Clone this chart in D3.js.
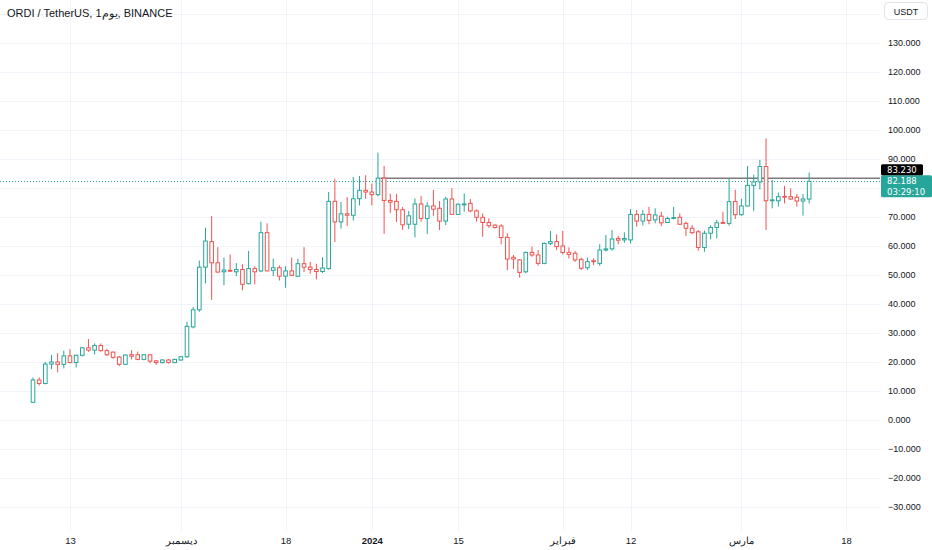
<!DOCTYPE html>
<html>
<head>
<meta charset="utf-8">
<script src="https://cdn.jsdelivr.net/npm/d3@7"></script>
<style>
body { margin: 0; background: #fff; }
svg { display: block; font-family: "Liberation Sans", Arial, sans-serif; }
</style>
</head>
<body>
<div id="chart"></div>
<script>
// daily candles ORDI/USDT, first day 7 Nov 2023
var firstDay = Date.UTC(2023, 10, 7);

var opens = [6.0, 13.7, 12.5, 19.2, 19.9, 19.1, 22.0, 19.7, 22.2, 24.8,
  24.0, 25.6, 23.8, 23.3, 21.6, 19.1, 22.4, 22.4, 20.8, 22.4,
  20.3, 19.7, 20.6, 19.7, 20.6, 21.7, 32.0, 37.9, 52.6, 61.4,
  54.1, 51.0, 51.5, 51.0, 51.8, 46.9, 52.1, 51.3, 64.5, 51.5,
  52.4, 49.5, 51.3, 49.5, 53.8, 52.6, 51.8, 51.1, 52.1, 75.3,
  68.2, 71.0, 70.5, 76.2, 79.1, 78.5, 77.6, 83.3, 75.6, 75.3,
  72.4, 67.4, 67.4, 74.4, 69.4, 73.7, 72.9, 68.5, 76.1, 70.8,
  74.1, 74.6, 72.0, 69.8, 68.0, 67.1, 66.8, 62.9, 56.0, 55.1,
  51.0, 57.7, 56.8, 53.9, 60.8, 61.4, 59.9, 57.7, 57.4, 55.3,
  52.4, 54.8, 53.9, 58.5, 58.9, 62.5, 62.0, 62.0, 70.8, 68.5,
  70.8, 68.9, 70.2, 68.0, 69.4, 69.8, 67.7, 66.0, 64.8, 59.4,
  64.3, 66.3, 68.0, 67.7, 75.2, 70.7, 73.7, 80.8, 82.0, 87.3,
  75.5, 75.5, 77.0, 76.9, 76.7, 75.4, 76.1];
var highs = [14.6, 14.6, 19.9, 22.3, 22.9, 23.8, 24.3, 22.5, 25.0, 27.8,
  26.3, 26.3, 24.4, 23.5, 22.0, 22.5, 24.0, 23.5, 22.6, 22.6,
  20.5, 20.8, 20.9, 21.0, 21.9, 33.8, 38.9, 54.9, 66.2, 70.2,
  59.5, 55.9, 57.0, 54.0, 53.6, 58.2, 52.9, 68.3, 67.7, 55.5,
  53.2, 52.9, 55.9, 55.5, 59.5, 54.4, 53.8, 56.0, 78.5, 83.1,
  75.1, 76.8, 83.7, 84.0, 84.3, 81.4, 92.1, 87.5, 77.9, 77.9,
  73.3, 72.0, 76.3, 77.1, 75.0, 79.2, 75.4, 76.9, 79.8, 74.6,
  78.0, 76.1, 72.5, 71.1, 69.4, 67.4, 67.4, 64.3, 56.8, 55.4,
  57.9, 59.7, 58.5, 61.1, 65.1, 63.9, 65.1, 59.4, 58.2, 55.9,
  55.9, 55.6, 60.5, 63.7, 65.4, 63.4, 64.6, 72.6, 72.3, 72.3,
  73.4, 72.9, 71.7, 70.0, 73.4, 71.1, 68.3, 67.1, 65.4, 65.2,
  67.1, 68.9, 71.7, 83.2, 79.3, 76.2, 87.5, 84.5, 89.6, 97.0,
  82.7, 78.3, 80.6, 79.8, 77.8, 77.8, 85.2];
var lows = [5.8, 11.8, 12.2, 17.4, 16.3, 17.7, 19.5, 18.0, 21.8, 23.4,
  22.5, 23.5, 22.0, 21.0, 18.5, 19.0, 20.8, 20.5, 20.5, 19.5,
  18.9, 19.4, 19.4, 19.5, 20.3, 21.3, 31.5, 37.2, 47.0, 41.3,
  50.7, 46.4, 51.0, 49.5, 44.6, 46.7, 46.7, 50.9, 51.3, 49.5,
  48.0, 45.5, 49.5, 49.2, 50.9, 50.3, 48.4, 50.6, 51.8, 61.3,
  65.9, 66.8, 68.7, 73.9, 76.2, 73.9, 77.0, 64.1, 71.3, 68.2,
  65.5, 65.7, 62.9, 68.3, 64.0, 70.3, 65.4, 67.1, 70.8, 70.6,
  71.7, 71.5, 68.3, 63.1, 66.2, 65.9, 60.5, 51.6, 52.0, 49.0,
  50.5, 56.2, 53.1, 53.6, 60.2, 58.5, 57.0, 55.6, 54.4, 51.6,
  51.6, 53.3, 53.1, 58.0, 58.3, 60.5, 61.0, 60.8, 66.6, 67.0,
  67.4, 67.7, 66.8, 67.9, 69.1, 67.1, 63.3, 64.0, 58.3, 57.9,
  62.2, 62.5, 67.5, 66.9, 69.2, 70.3, 73.6, 71.9, 79.4, 65.4,
  72.9, 73.5, 74.6, 75.8, 73.5, 70.4, 74.6];
var closes = [13.7, 12.5, 19.2, 19.9, 19.1, 22.0, 19.7, 22.2, 24.8, 24.0,
  25.6, 23.8, 22.4, 21.5, 19.1, 22.3, 21.9, 20.8, 22.4, 20.2,
  19.7, 20.6, 19.7, 20.8, 21.7, 32.2, 37.9, 52.6, 61.6, 54.1,
  50.9, 51.6, 51.2, 51.8, 46.7, 52.1, 51.0, 64.5, 51.3, 52.4,
  49.5, 51.3, 49.8, 53.8, 52.6, 51.8, 51.1, 52.3, 75.3, 68.2,
  71.0, 70.5, 76.2, 79.1, 78.5, 77.6, 83.3, 75.6, 75.0, 72.4,
  67.2, 70.3, 74.4, 69.4, 73.7, 72.6, 68.5, 76.1, 70.8, 74.3,
  74.4, 72.0, 69.8, 68.0, 66.9, 66.3, 62.8, 55.4, 55.4, 50.8,
  57.7, 56.8, 53.9, 60.8, 61.4, 59.7, 57.7, 57.0, 55.1, 52.2,
  54.5, 54.5, 58.5, 58.9, 62.3, 61.9, 62.5, 70.8, 68.5, 70.8,
  68.7, 70.6, 67.9, 69.4, 69.7, 67.4, 66.0, 64.5, 59.4, 64.3,
  66.3, 67.9, 67.7, 75.2, 70.7, 73.7, 80.8, 82.0, 87.3, 75.5,
  75.8, 76.9, 76.9, 76.1, 75.4, 76.1, 82.188];

// 80.000 is hidden behind the last-price label, so it has no text
var priceTicks = [-30, -20, -10, 0, 10, 20, 30, 40, 50, 60, 70, 90, 100, 110, 120, 130];
var gridPrices = priceTicks.concat([80, 140]);
var timeTicks = ["2023-11-13", "2023-12-01", "2023-12-18", "2024-01-01", "2024-01-15",
  "2024-02-01", "2024-02-12", "2024-03-01", "2024-03-18"];
var timeLabels = ["13", "ديسمبر", "18", "2024", "15", "فبراير", "12", "مارس", "18"];

var lastPrice = 82.188;
var countdown = "03:29:10";
var levelPrice = 83.23;
var levelStart = "2024-01-02T10:00Z";

var svgWidth = 932, svgHeight = 550;
var plotRight = 880, plotBottom = 531;
var upColor = "#26a69a", downColor = "#ef5350", textColor = "#131722";
var labelFont = "'DejaVu Sans', Verdana, sans-serif";

var candles = opens.map(function (o, i) {
  return { date: new Date(firstDay + i * 864e5), o: o, h: highs[i], l: lows[i], c: closes[i] };
});

var svg = d3.select("#chart").append("svg")
  .attr("width", svgWidth)
  .attr("height", svgHeight);

var x = d3.scaleUtc()
  .domain([new Date(Date.UTC(2023, 10, 1, 15, 24)), new Date(Date.UTC(2024, 2, 23, 12))])
  .range([0, plotRight]);
var y = d3.scaleLinear().domain([0, 130]).range([419.7, 42.7]);

// grille
svg.append("g").selectAll("line").data(gridPrices).enter().append("line")
  .attr("x1", 0).attr("x2", plotRight)
  .attr("y1", function (d) { return Math.round(y(d)) + 0.5; })
  .attr("y2", function (d) { return Math.round(y(d)) + 0.5; })
  .attr("stroke", "#f0f3fa");
svg.append("g").selectAll("line").data(timeTicks).enter().append("line")
  .attr("x1", function (d) { return Math.round(x(new Date(d))) + 0.5; })
  .attr("x2", function (d) { return Math.round(x(new Date(d))) + 0.5; })
  .attr("y1", 0).attr("y2", plotBottom)
  .attr("stroke", "#f0f3fa");

// ligne horizontale dessinée
svg.append("line")
  .attr("x1", x(new Date(levelStart))).attr("x2", plotRight)
  .attr("y1", y(levelPrice)).attr("y2", y(levelPrice))
  .attr("stroke", "#7b7b7b").attr("stroke-width", 1.5);

// ligne du dernier prix
svg.append("line")
  .attr("x1", 0).attr("x2", plotRight)
  .attr("y1", Math.round(y(lastPrice)) + 0.5).attr("y2", Math.round(y(lastPrice)) + 0.5)
  .attr("stroke", upColor).attr("stroke-dasharray", "1,2");

// bougies
var bodyW = 3.6;
var g = svg.append("g");
var candle = g.selectAll("g.candle").data(candles).enter().append("g").attr("class", "candle");
candle.append("line")
  .attr("x1", function (d) { return x(d.date); })
  .attr("x2", function (d) { return x(d.date); })
  .attr("y1", function (d) { return y(d.h); })
  .attr("y2", function (d) { return y(d.l); })
  .attr("stroke", function (d) { return d.c >= d.o ? upColor : downColor; });
candle.append("rect")
  .attr("x", function (d) { return x(d.date) - bodyW / 2; })
  .attr("width", bodyW)
  .attr("y", function (d) { return y(Math.max(d.o, d.c)); })
  .attr("height", function (d) { return Math.max(0.8, Math.abs(y(d.o) - y(d.c))); })
  .attr("fill", "#fff")
  .attr("stroke", function (d) { return d.c >= d.o ? upColor : downColor; });

// axe des prix
var fmt = function (d) { return d.toFixed(3).replace("-", "\u2212"); };
var yAxis = svg.append("g")
  .attr("transform", "translate(" + plotRight + ",0)")
  .call(d3.axisRight(y).tickValues(priceTicks).tickSize(0).tickPadding(8).tickFormat(fmt));
yAxis.select(".domain").remove();
yAxis.selectAll("text").attr("fill", textColor).style("font-size", "9px")
  .style("font-family", "'Liberation Sans', Arial, sans-serif");

// axe du temps
var xAxis = svg.append("g")
  .attr("transform", "translate(0," + plotBottom + ")")
  .call(d3.axisBottom(x).tickValues(timeTicks.map(function (d) { return new Date(d); }))
    .tickSize(0).tickPadding(6)
    .tickFormat(function (d, i) { return timeLabels[i]; }));
xAxis.select(".domain").remove();
xAxis.selectAll("text").attr("fill", textColor).style("font-size", "9.5px")
  .style("font-family", "'Liberation Sans', Arial, sans-serif")
  .style("font-weight", function (d, i) { return timeLabels[i] === "2024" ? "bold" : "normal"; });

// titre
svg.append("text")
  .attr("x", 7).attr("y", 16.5)
  .attr("fill", textColor)
  .style("font-size", "11px")
  .text("ORDI / TetherUS, 1يوم, BINANCE");

// bouton devise
svg.append("rect")
  .attr("x", 884.5).attr("y", 2.5).attr("width", 43).attr("height", 17).attr("rx", 4)
  .attr("fill", "#fff").attr("stroke", "#e0e3eb");
svg.append("text")
  .attr("x", 906).attr("y", 14.5).attr("text-anchor", "middle")
  .attr("fill", textColor).style("font-size", "9px").text("USDT");

// étiquettes de prix
var greenTop = y(lastPrice) - 6;
svg.append("rect")
  .attr("x", 881).attr("y", greenTop).attr("width", 51).attr("height", 22).attr("rx", 1.5)
  .attr("fill", upColor);
var lastLabel = svg.append("text")
  .attr("y", greenTop + 8.6).attr("fill", "#fff")
  .style("font-family", labelFont).style("font-size", "8.5px");
lastLabel.append("tspan").attr("x", 887).text(lastPrice.toFixed(3));
lastLabel.append("tspan").attr("x", 887).attr("dy", 10.6).text(countdown);

svg.append("rect")
  .attr("x", 881).attr("y", greenTop - 11).attr("width", 42).attr("height", 11).attr("rx", 1.5)
  .attr("fill", "#000");
svg.append("text")
  .attr("x", 887).attr("y", greenTop - 2.6).attr("fill", "#fff")
  .style("font-family", labelFont).style("font-size", "8.5px").text(levelPrice.toFixed(3));
</script>
</body>
</html>
